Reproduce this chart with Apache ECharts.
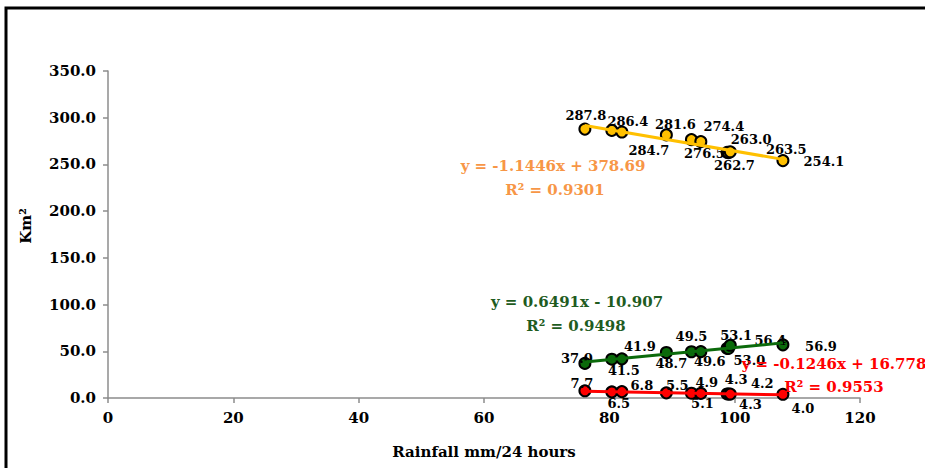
<!DOCTYPE html>
<html>
<head>
<meta charset="utf-8">
<title>Rainfall vs area</title>
<script src="https://cdn.jsdelivr.net/npm/echarts@6/dist/echarts.min.js"></script>
<style>
  html, body { margin: 0; padding: 0; background: #fff; }
  #chart { width: 925px; height: 468px; }
</style>
</head>
<body>
<div id="chart"></div>
<script>
// rainfall (mm/24 hours) for each observation
var rainfall = [76.1, 80.4, 82.0, 89.1, 93.1, 94.6, 98.8, 99.0, 99.3, 107.7]
// area in Km2 for the three classes
var yellowArea = [287.8, 286.4, 284.7, 281.6, 276.5, 274.4, 263.0, 262.7, 263.5, 254.1]
var greenArea = [37.0, 41.5, 41.9, 48.7, 49.5, 49.6, 53.1, 53.0, 56.4, 56.9]
var redArea = [7.7, 6.5, 6.8, 5.5, 5.1, 4.9, 4.3, 4.3, 4.2, 4.0]

// trendline equations as printed on the chart
var yellowFit = { slope: -1.1446, intercept: 378.69, r2: '0.9301' }
var greenFit = { slope: 0.6491, intercept: -10.907, r2: '0.9498' }
var redFit = { slope: -0.1246, intercept: 16.778, r2: '0.9553' }

var xTicks = [0, 20, 40, 60, 80, 100, 120]
var yTicks = [0, 50, 100, 150, 200, 250, 300, 350]

// label placement (pixel offset from the marker centre)
var yellowLabelOffset = [[1, -14], [16, -9], [27, 18], [9, -10], [13, 14], [23, -15], [24, -13], [6, 13], [56, -2], [41, 1]]
var greenLabelOffset = [[-8, -5], [12, 11], [18, -12], [5, 11], [0, -15], [9, 10], [9, -13], [21, 12], [40, -5], [38, 2]]
var redLabelOffset = [[-3, -7], [7, 12], [20, -6], [11, -7], [11, 10], [6, -11], [9, -14], [22, 11], [32, -11], [20, 14]]

var FONT = 'DejaVu Serif'
var chart = echarts.init(document.getElementById('chart'), null, { renderer: 'svg' })

function points(values) {
  return rainfall.map(function (x, i) { return [x, values[i]] })
}

function trend(fit) {
  var lo = Math.min.apply(null, rainfall)
  var hi = Math.max.apply(null, rainfall)
  return [[lo, fit.slope * lo + fit.intercept], [hi, fit.slope * hi + fit.intercept]]
}

function fmtEq(fit) {
  var b = fit.intercept < 0 ? ' - ' + Math.abs(fit.intercept) : ' + ' + fit.intercept
  return 'y = ' + fit.slope + 'x' + b
}

function scatterSeries(name, values, offsets, color) {
  return {
    name: name,
    type: 'scatter',
    data: points(values),
    symbol: 'circle',
    symbolSize: 11,
    z: 2,
    itemStyle: { color: color, borderColor: '#000', borderWidth: 2, opacity: 1 },
    label: {
      show: true,
      position: 'inside',
      formatter: function (p) { return p.value[1].toFixed(1) },
      color: '#000',
      fontFamily: FONT,
      fontWeight: 'bold',
      fontSize: 13
    },
    labelLayout: function (params) {
      var o = offsets[params.dataIndex]
      return { dx: o[0], dy: o[1], hideOverlap: false }
    },
    emphasis: { disabled: true }
  }
}

function trendSeries(fit, color) {
  return {
    type: 'line',
    data: trend(fit),
    showSymbol: false,
    silent: true,
    z: 3,
    lineStyle: { color: color, width: 3 }
  }
}

var eqFont = 'bold 15px "' + FONT + '"'
function eqText(str, x, y, color) {
  return {
    type: 'text',
    x: x,
    y: y,
    z: 10,
    style: { text: str, fill: color, font: eqFont, textAlign: 'center', textVerticalAlign: 'middle' }
  }
}

chart.setOption({
  animation: false,
  grid: { left: 108, right: 65, top: 71, bottom: 70 },
  xAxis: {
    type: 'value',
    min: xTicks[0],
    max: xTicks[xTicks.length - 1],
    interval: 20,
    splitLine: { show: false },
    axisLine: { show: true, onZero: false, lineStyle: { color: '#8c8c8c', width: 1.5 } },
    axisTick: { show: true, length: 5, lineStyle: { color: '#8c8c8c', width: 1.5 } },
    axisLabel: { margin: 12, color: '#000', fontFamily: FONT, fontWeight: 'bold', fontSize: 15 }
  },
  yAxis: {
    type: 'value',
    min: yTicks[0],
    max: yTicks[yTicks.length - 1],
    interval: 50,
    splitLine: { show: false },
    axisLine: { show: true, lineStyle: { color: '#8c8c8c', width: 1.5 } },
    axisTick: { show: true, length: 5, lineStyle: { color: '#8c8c8c', width: 1.5 } },
    axisLabel: {
      margin: 12,
      color: '#000',
      fontFamily: FONT,
      fontWeight: 'bold',
      fontSize: 15,
      formatter: function (v) { return v.toFixed(1) }
    }
  },
  graphic: [
    {
      type: 'rect',
      z: 20,
      shape: { x: 6, y: 8, width: 940, height: 480 },
      style: { fill: 'none', stroke: '#000', lineWidth: 3 }
    },
    {
      type: 'text',
      x: 484,
      y: 452,
      style: { text: 'Rainfall mm/24 hours', fill: '#000', font: eqFont, textAlign: 'center', textVerticalAlign: 'middle' }
    },
    {
      type: 'text',
      x: 26,
      y: 226,
      rotation: Math.PI / 2,
      style: { text: 'Km²', fill: '#000', font: eqFont, textAlign: 'center', textVerticalAlign: 'middle' }
    },
    eqText(fmtEq(yellowFit), 553, 166, '#F79646'),
    eqText('R² = ' + yellowFit.r2, 555, 190, '#F79646'),
    eqText(fmtEq(greenFit), 577, 302, '#1F5C1F'),
    eqText('R² = ' + greenFit.r2, 576, 326, '#1F5C1F'),
    eqText(fmtEq(redFit), 834, 364, '#FF0000'),
    eqText('R² = ' + redFit.r2, 834, 387, '#FF0000')
  ],
  series: [
    scatterSeries('yellow', yellowArea, yellowLabelOffset, '#FFC000'),
    scatterSeries('green', greenArea, greenLabelOffset, '#0B6A0B'),
    scatterSeries('red', redArea, redLabelOffset, '#FF0000'),
    trendSeries(yellowFit, '#FFC000'),
    trendSeries(greenFit, '#0B6A0B'),
    trendSeries(redFit, '#FF0000')
  ]
})
</script>
</body>
</html>
